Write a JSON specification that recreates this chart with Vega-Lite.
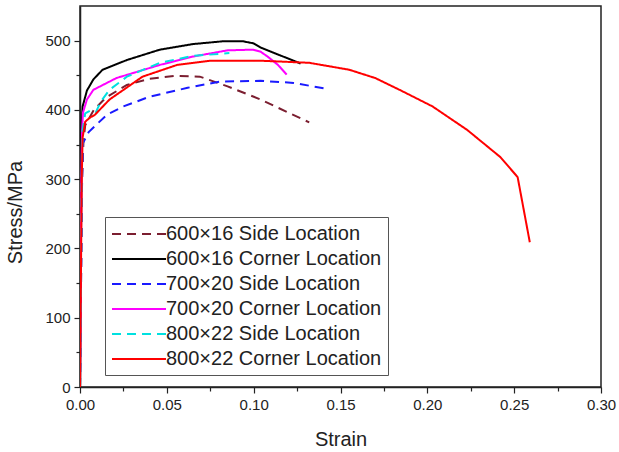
{
  "$schema": "https://vega.github.io/schema/vega-lite/v6.json",
  "width": 521,
  "height": 381,
  "autosize": {"type": "none"},
  "padding": {"left": 80, "top": 6, "right": 18, "bottom": 65},
  "background": "white",
  "config": {
    "font": "Liberation Sans",
    "view": {"stroke": "#222", "strokeWidth": 1.5},
    "axis": {"domainColor": "#222", "domainWidth": 1.5, "tickColor": "#222", "labelColor": "#222", "titleColor": "#222", "grid": false}
  },
  "data": {"values": [
    {"s": "600×16 Side Location", "i": 0, "strain": 0, "stress": 0},
    {"s": "600×16 Side Location", "i": 1, "strain": 0.0012, "stress": 300},
    {"s": "600×16 Side Location", "i": 2, "strain": 0.002, "stress": 355},
    {"s": "600×16 Side Location", "i": 3, "strain": 0.003, "stress": 378},
    {"s": "600×16 Side Location", "i": 4, "strain": 0.008, "stress": 400},
    {"s": "600×16 Side Location", "i": 5, "strain": 0.015, "stress": 418},
    {"s": "600×16 Side Location", "i": 6, "strain": 0.027, "stress": 436},
    {"s": "600×16 Side Location", "i": 7, "strain": 0.04, "stress": 445},
    {"s": "600×16 Side Location", "i": 8, "strain": 0.054, "stress": 449},
    {"s": "600×16 Side Location", "i": 9, "strain": 0.069, "stress": 448},
    {"s": "600×16 Side Location", "i": 10, "strain": 0.085, "stress": 434},
    {"s": "600×16 Side Location", "i": 11, "strain": 0.104, "stress": 415},
    {"s": "600×16 Side Location", "i": 12, "strain": 0.12, "stress": 396},
    {"s": "600×16 Side Location", "i": 13, "strain": 0.132, "stress": 382},

    {"s": "600×16 Corner Location", "i": 0, "strain": 0, "stress": 0},
    {"s": "600×16 Corner Location", "i": 1, "strain": 0.0008, "stress": 300},
    {"s": "600×16 Corner Location", "i": 2, "strain": 0.001, "stress": 380},
    {"s": "600×16 Corner Location", "i": 3, "strain": 0.0015, "stress": 405},
    {"s": "600×16 Corner Location", "i": 4, "strain": 0.004, "stress": 428},
    {"s": "600×16 Corner Location", "i": 5, "strain": 0.0077, "stress": 444},
    {"s": "600×16 Corner Location", "i": 6, "strain": 0.013, "stress": 458},
    {"s": "600×16 Corner Location", "i": 7, "strain": 0.027, "stress": 472},
    {"s": "600×16 Corner Location", "i": 8, "strain": 0.046, "stress": 487},
    {"s": "600×16 Corner Location", "i": 9, "strain": 0.065, "stress": 495},
    {"s": "600×16 Corner Location", "i": 10, "strain": 0.082, "stress": 499},
    {"s": "600×16 Corner Location", "i": 11, "strain": 0.094, "stress": 499},
    {"s": "600×16 Corner Location", "i": 12, "strain": 0.1, "stress": 496},
    {"s": "600×16 Corner Location", "i": 13, "strain": 0.104, "stress": 490},
    {"s": "600×16 Corner Location", "i": 14, "strain": 0.115, "stress": 479},
    {"s": "600×16 Corner Location", "i": 15, "strain": 0.127, "stress": 467},

    {"s": "700×20 Side Location", "i": 0, "strain": 0, "stress": 0},
    {"s": "700×20 Side Location", "i": 1, "strain": 0.0012, "stress": 300},
    {"s": "700×20 Side Location", "i": 2, "strain": 0.0017, "stress": 352},
    {"s": "700×20 Side Location", "i": 3, "strain": 0.005, "stress": 368},
    {"s": "700×20 Side Location", "i": 4, "strain": 0.01, "stress": 380},
    {"s": "700×20 Side Location", "i": 5, "strain": 0.0155, "stress": 393},
    {"s": "700×20 Side Location", "i": 6, "strain": 0.025, "stress": 405},
    {"s": "700×20 Side Location", "i": 7, "strain": 0.04, "stress": 419},
    {"s": "700×20 Side Location", "i": 8, "strain": 0.062, "stress": 432},
    {"s": "700×20 Side Location", "i": 9, "strain": 0.081, "stress": 441},
    {"s": "700×20 Side Location", "i": 10, "strain": 0.104, "stress": 442},
    {"s": "700×20 Side Location", "i": 11, "strain": 0.123, "stress": 439},
    {"s": "700×20 Side Location", "i": 12, "strain": 0.143, "stress": 430},

    {"s": "700×20 Corner Location", "i": 0, "strain": 0, "stress": 0},
    {"s": "700×20 Corner Location", "i": 1, "strain": 0.0008, "stress": 300},
    {"s": "700×20 Corner Location", "i": 2, "strain": 0.0012, "stress": 370},
    {"s": "700×20 Corner Location", "i": 3, "strain": 0.0017, "stress": 396},
    {"s": "700×20 Corner Location", "i": 4, "strain": 0.004, "stress": 415},
    {"s": "700×20 Corner Location", "i": 5, "strain": 0.0077, "stress": 429},
    {"s": "700×20 Corner Location", "i": 6, "strain": 0.021, "stress": 446},
    {"s": "700×20 Corner Location", "i": 7, "strain": 0.046, "stress": 465},
    {"s": "700×20 Corner Location", "i": 8, "strain": 0.065, "stress": 477},
    {"s": "700×20 Corner Location", "i": 9, "strain": 0.085, "stress": 486},
    {"s": "700×20 Corner Location", "i": 10, "strain": 0.0997, "stress": 487},
    {"s": "700×20 Corner Location", "i": 11, "strain": 0.104, "stress": 484},
    {"s": "700×20 Corner Location", "i": 12, "strain": 0.108, "stress": 477},
    {"s": "700×20 Corner Location", "i": 13, "strain": 0.114, "stress": 465},
    {"s": "700×20 Corner Location", "i": 14, "strain": 0.119, "stress": 451},

    {"s": "800×22 Side Location", "i": 0, "strain": 0, "stress": 0},
    {"s": "800×22 Side Location", "i": 1, "strain": 0.001, "stress": 300},
    {"s": "800×22 Side Location", "i": 2, "strain": 0.0015, "stress": 370},
    {"s": "800×22 Side Location", "i": 3, "strain": 0.003, "stress": 395},
    {"s": "800×22 Side Location", "i": 4, "strain": 0.006, "stress": 399},
    {"s": "800×22 Side Location", "i": 5, "strain": 0.009, "stress": 396},
    {"s": "800×22 Side Location", "i": 6, "strain": 0.012, "stress": 412},
    {"s": "800×22 Side Location", "i": 7, "strain": 0.017, "stress": 429},
    {"s": "800×22 Side Location", "i": 8, "strain": 0.027, "stress": 448},
    {"s": "800×22 Side Location", "i": 9, "strain": 0.046, "stress": 468},
    {"s": "800×22 Side Location", "i": 10, "strain": 0.065, "stress": 478},
    {"s": "800×22 Side Location", "i": 11, "strain": 0.086, "stress": 482},

    {"s": "800×22 Corner Location", "i": 0, "strain": 0, "stress": 0},
    {"s": "800×22 Corner Location", "i": 1, "strain": 0.001, "stress": 300},
    {"s": "800×22 Corner Location", "i": 2, "strain": 0.0015, "stress": 360},
    {"s": "800×22 Corner Location", "i": 3, "strain": 0.003, "stress": 383},
    {"s": "800×22 Corner Location", "i": 4, "strain": 0.0058, "stress": 389},
    {"s": "800×22 Corner Location", "i": 5, "strain": 0.0086, "stress": 393},
    {"s": "800×22 Corner Location", "i": 6, "strain": 0.017, "stress": 415},
    {"s": "800×22 Corner Location", "i": 7, "strain": 0.036, "stress": 448},
    {"s": "800×22 Corner Location", "i": 8, "strain": 0.056, "stress": 465},
    {"s": "800×22 Corner Location", "i": 9, "strain": 0.075, "stress": 471},
    {"s": "800×22 Corner Location", "i": 10, "strain": 0.104, "stress": 471},
    {"s": "800×22 Corner Location", "i": 11, "strain": 0.132, "stress": 468},
    {"s": "800×22 Corner Location", "i": 12, "strain": 0.155, "stress": 458},
    {"s": "800×22 Corner Location", "i": 13, "strain": 0.17, "stress": 446},
    {"s": "800×22 Corner Location", "i": 14, "strain": 0.184, "stress": 429},
    {"s": "800×22 Corner Location", "i": 15, "strain": 0.203, "stress": 405},
    {"s": "800×22 Corner Location", "i": 16, "strain": 0.223, "stress": 371},
    {"s": "800×22 Corner Location", "i": 17, "strain": 0.242, "stress": 332},
    {"s": "800×22 Corner Location", "i": 18, "strain": 0.252, "stress": 303},
    {"s": "800×22 Corner Location", "i": 19, "strain": 0.259, "stress": 209}
  ]},
  "mark": {"type": "line", "strokeWidth": 2, "clip": true},
  "encoding": {
    "x": {
      "field": "strain", "type": "quantitative",
      "scale": {"domain": [0, 0.3], "nice": false, "zero": false},
      "axis": {
        "title": "Strain", "titleFontSize": 20, "titleFontWeight": "normal",
        "titleBaseline": "middle", "titleY": 52,
        "values": [0, 0.025, 0.05, 0.075, 0.1, 0.125, 0.15, 0.175, 0.2, 0.225, 0.25, 0.275, 0.3],
        "labelExpr": "abs(datum.value*20 - round(datum.value*20)) < 0.000001 ? format(datum.value, '.2f') : ''",
        "labelFontSize": 15, "labelPadding": 4, "labelFlush": false,
        "tickSize": {"condition": {"test": "abs(datum.value*20 - round(datum.value*20)) < 0.000001", "value": 6}, "value": 4},
        "tickWidth": 1.2
      }
    },
    "y": {
      "field": "stress", "type": "quantitative",
      "scale": {"domain": [0, 550], "nice": false},
      "axis": {
        "title": "Stress/MPa", "titleFontSize": 20, "titleFontWeight": "normal",
        "titleX": -55, "titleY": 206,
        "values": [0, 50, 100, 150, 200, 250, 300, 350, 400, 450, 500],
        "labelExpr": "datum.value % 100 === 0 ? datum.label : ''",
        "labelFontSize": 15, "labelPadding": 4,
        "tickSize": {"condition": {"test": "datum.value % 100 === 0", "value": 6}, "value": 4},
        "tickWidth": 1.2
      }
    },
    "color": {
      "field": "s", "type": "nominal",
      "scale": {
        "domain": ["600×16 Side Location", "600×16 Corner Location", "700×20 Side Location", "700×20 Corner Location", "800×22 Side Location", "800×22 Corner Location"],
        "range": ["#7b1e30", "#000000", "#1a1aff", "#ff00ff", "#00e0e0", "#ff0000"]
      },
      "legend": {
        "title": null, "orient": "none", "legendX": 25, "legendY": 211,
        "strokeColor": "#555", "fillColor": "white", "padding": 6,
        "symbolType": "M-2.7,0H2.7", "symbolSize": 400, "symbolStrokeWidth": 2,
        "symbolOffset": 17, "labelOffset": 16, "labelLimit": 400,
        "labelFontSize": 20, "labelColor": "#222", "rowPadding": 4
      }
    },
    "strokeDash": {
      "field": "s", "type": "nominal",
      "scale": {
        "domain": ["600×16 Side Location", "600×16 Corner Location", "700×20 Side Location", "700×20 Corner Location", "800×22 Side Location", "800×22 Corner Location"],
        "range": [[9, 6], [1, 0], [9, 6], [1, 0], [9, 6], [1, 0]]
      },
      "legend": null
    },
    "order": {"field": "i", "type": "quantitative"}
  }
}
